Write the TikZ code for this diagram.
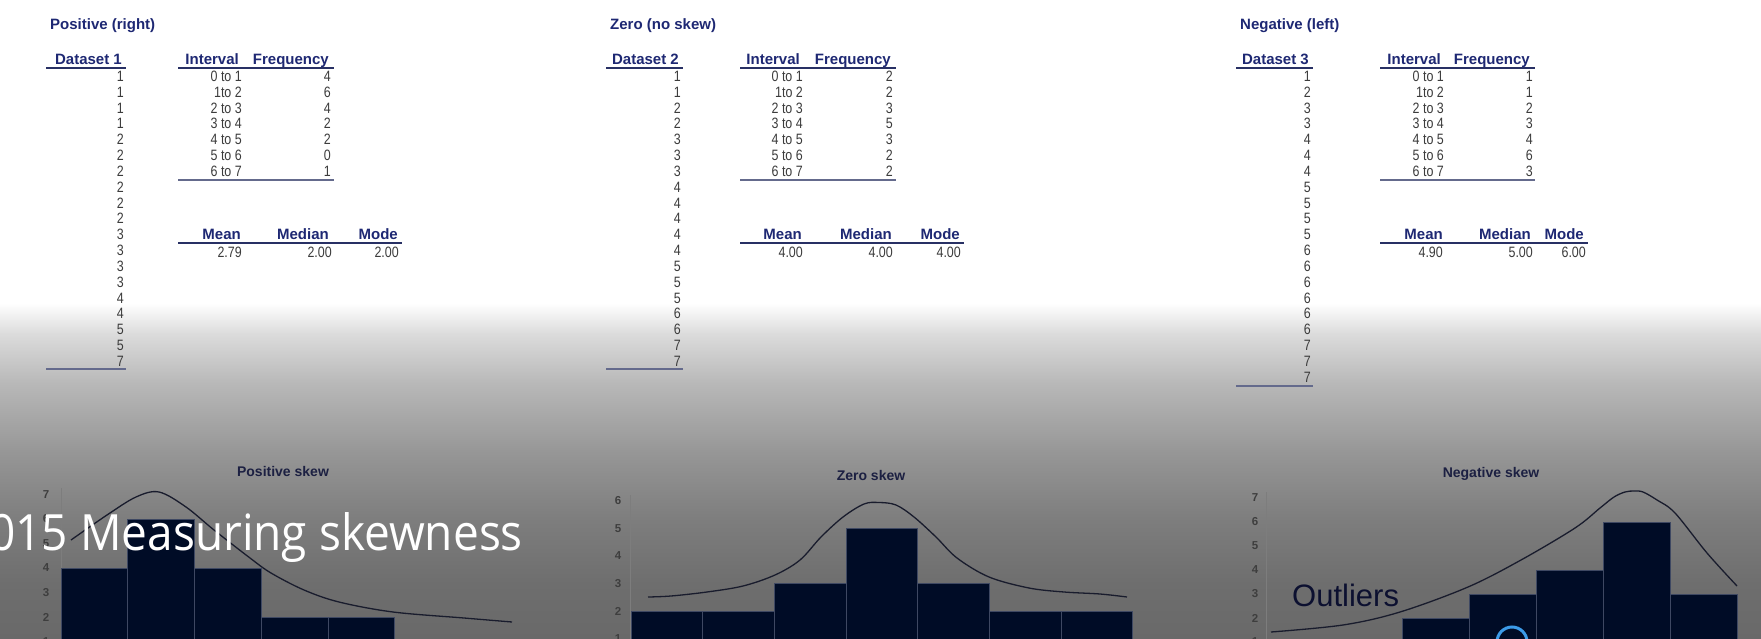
\documentclass[tikz,border=0pt]{standalone}
\usepackage{fontspec}
\setmainfont{Liberation Sans}
\newfontfamily\numfont[FakeStretch=0.83]{Liberation Sans}
\newfontfamily\titlefont{Open Sans}
\definecolor{hdr}{RGB}{30,40,115}
\definecolor{hline}{RGB}{40,48,100}
\definecolor{bline}{RGB}{100,106,140}
\definecolor{numc}{RGB}{60,60,60}
\definecolor{barc}{RGB}{0,12,38}
\definecolor{bared}{RGB}{62,72,98}
\definecolor{curvec}{RGB}{25,28,45}
\definecolor{ctitlec}{RGB}{28,32,66}
\definecolor{axlab}{RGB}{62,62,62}
\definecolor{ringc}{RGB}{60,155,232}
\definecolor{outc}{RGB}{12,16,48}
\definecolor{axc}{RGB}{125,125,125}
\definecolor{g1}{RGB}{220,220,220}
\definecolor{g2}{RGB}{184,184,184}
\definecolor{g3}{RGB}{151,151,151}
\definecolor{g4}{RGB}{126,126,126}
\definecolor{g5}{RGB}{110,110,110}
\definecolor{g6}{RGB}{105,105,105}
\tikzset{
  hd/.style={font=\fontsize{15}{18}\selectfont\bfseries, text=hdr, inner sep=0pt},
  num/.style={font=\numfont\fontsize{15}{18}\selectfont, text=numc, inner sep=0pt, anchor=base east},
  uline/.style={draw=hline, line width=2pt},
  lline/.style={draw=bline, line width=1.6pt},
  barbox/.style={fill=barc, draw=bared, line width=1pt},
  curve/.style={draw=curvec, line width=1.3pt, smooth, tension=0.55},
  ctitle/.style={font=\fontsize{14}{16}\selectfont\bfseries, text=ctitlec, inner sep=0pt, anchor=base},
  ylab/.style={font=\fontsize{11.5}{13}\selectfont\bfseries, text=axlab, inner sep=0pt},
  axline/.style={draw=axc, line width=0.6pt},
}
\begin{document}
\begin{tikzpicture}[x=1pt,y=-1pt]
\useasboundingbox (0,0) rectangle (1761,639);
\clip (0,0) rectangle (1761,639);
% background
\fill[white] (0,0) rectangle (1761,304);
\fill[top color=white, bottom color=g1] (0,303) rectangle (1761,333.5);
\fill[top color=g1, bottom color=g2] (0,333) rectangle (1761,383.5);
\fill[top color=g2, bottom color=g3] (0,383) rectangle (1761,450.5);
\fill[top color=g3, bottom color=g4] (0,450) rectangle (1761,517.5);
\fill[top color=g4, bottom color=g5] (0,517) rectangle (1761,583.5);
\fill[top color=g5, bottom color=g6] (0,583) rectangle (1761,639);

% ================= Panel 1 =================
\node[hd, anchor=base west] (t1) at (50,30) {Positive (right)};
\node[hd, anchor=base east] (d1h) at (122,64.3) {Dataset 1};
\draw[uline] (46,68) -- (126,68);
\foreach \v [count=\i] in {1,1,1,1,2,2,2,2,2,2,3,3,3,3,4,4,5,5,7}
  \node[num] (d1r\i) at (124,{81.5+15.83*(\i-1)}) {\v};
\draw[lline] (46,369) -- (126,369);
\node[hd, anchor=base east] (i1h) at (239,64.3) {Interval};
\node[hd, anchor=base east] (f1h) at (329,64.3) {Frequency};
\draw[uline] (178,68) -- (334,68);
\foreach \v [count=\i] in {0 to 1,1to 2,2 to 3,3 to 4,4 to 5,5 to 6,6 to 7}
  \node[num] (i1r\i) at (242,{81.5+15.83*(\i-1)}) {\v};
\foreach \v [count=\i] in {4,6,4,2,2,0,1}
  \node[num] (f1r\i) at (331,{81.5+15.83*(\i-1)}) {\v};
\draw[lline] (178,180) -- (334,180);
\node[hd, anchor=base east] (mn1) at (241,240) {Mean};
\node[hd, anchor=base east] (md1) at (329,240) {Median};
\node[hd, anchor=base east] (mo1) at (398,240) {Mode};
\draw[uline] (178,243) -- (402,243);
\node[num] (mnv1) at (242,257) {2.79};
\node[num] (mdv1) at (332,257) {2.00};
\node[num] (mov1) at (399,257) {2.00};

% ================= Panel 2 =================
\node[hd, anchor=base west] (t2) at (610,30) {Zero (no skew)};
\node[hd, anchor=base east] (d2h) at (679,64.3) {Dataset 2};
\draw[uline] (606,68) -- (683,68);
\foreach \v [count=\i] in {1,1,2,2,3,3,3,4,4,4,4,4,5,5,5,6,6,7,7}
  \node[num] (d2r\i) at (681,{81.5+15.83*(\i-1)}) {\v};
\draw[lline] (606,369) -- (683,369);
\node[hd, anchor=base east] (i2h) at (800,64.3) {Interval};
\node[hd, anchor=base east] (f2h) at (891,64.3) {Frequency};
\draw[uline] (740,68) -- (896,68);
\foreach \v [count=\i] in {0 to 1,1to 2,2 to 3,3 to 4,4 to 5,5 to 6,6 to 7}
  \node[num] (i2r\i) at (803,{81.5+15.83*(\i-1)}) {\v};
\foreach \v [count=\i] in {2,2,3,5,3,2,2}
  \node[num] (f2r\i) at (893,{81.5+15.83*(\i-1)}) {\v};
\draw[lline] (740,180) -- (896,180);
\node[hd, anchor=base east] (mn2) at (802,240) {Mean};
\node[hd, anchor=base east] (md2) at (892,240) {Median};
\node[hd, anchor=base east] (mo2) at (960,240) {Mode};
\draw[uline] (740,243) -- (964,243);
\node[num] (mnv2) at (803,257) {4.00};
\node[num] (mdv2) at (893,257) {4.00};
\node[num] (mov2) at (961,257) {4.00};

% ================= Panel 3 =================
\node[hd, anchor=base west] (t3) at (1240,30) {Negative (left)};
\node[hd, anchor=base east] (d3h) at (1309,64.3) {Dataset 3};
\draw[uline] (1236,68) -- (1313,68);
\foreach \v [count=\i] in {1,2,3,3,4,4,4,5,5,5,5,6,6,6,6,6,6,7,7,7}
  \node[num] (d3r\i) at (1311,{81.5+15.83*(\i-1)}) {\v};
\draw[lline] (1236,386) -- (1313,386);
\node[hd, anchor=base east] (i3h) at (1441,64.3) {Interval};
\node[hd, anchor=base east] (f3h) at (1530,64.3) {Frequency};
\draw[uline] (1380,68) -- (1535,68);
\foreach \v [count=\i] in {0 to 1,1to 2,2 to 3,3 to 4,4 to 5,5 to 6,6 to 7}
  \node[num] (i3r\i) at (1444,{81.5+15.83*(\i-1)}) {\v};
\foreach \v [count=\i] in {1,1,2,3,4,6,3}
  \node[num] (f3r\i) at (1533,{81.5+15.83*(\i-1)}) {\v};
\draw[lline] (1380,180) -- (1535,180);
\node[hd, anchor=base east] (mn3) at (1443,240) {Mean};
\node[hd, anchor=base east] (md3) at (1531,240) {Median};
\node[hd, anchor=base east] (mo3) at (1584,240) {Mode};
\draw[uline] (1380,243) -- (1588,243);
\node[num] (mnv3) at (1443,257) {4.90};
\node[num] (mdv3) at (1533,257) {5.00};
\node[num] (mov3) at (1586,257) {6.00};

% ================= Chart 1 =================
\node[ctitle] (c1t) at (283,476) {Positive skew};
\foreach \v in {1,...,7}
  \node[ylab] (c1y\v) at (46,{666-24.5*\v}) {\v};
\draw[axline] (61,488) -- (61,666);
\foreach \h [count=\i] in {4,6,4,2,2,0,1}
  {\draw[barbox] ({61+66.75*(\i-1)},666) rectangle ({61+66.75*\i},{666-24.5*\h});}
\draw[curve] plot coordinates {(71,540) (107,515) (136,497) (159,492) (186,507) (214,530) (250,558) (271,573) (304,590) (339,602) (393,612) (464,618) (512,622)};

% ================= Chart 2 =================
\node[ctitle] (c2t) at (871,480) {Zero skew};
\foreach \v in {1,...,6}
  \node[ylab] (c2y\v) at (618,{666-27.5*\v}) {\v};
\draw[axline] (630,495) -- (630,666);
\foreach \h [count=\i] in {2,2,3,5,3,2,2}
  {\draw[barbox] ({631+71.7*(\i-1)},666) rectangle ({631+71.7*\i},{666-27.5*\h});}
\draw[curve] plot coordinates {(648,597) (671,596) (707,592) (743,586) (775,575) (800,560) (821,537) (843,517) (864,504) (879,502.5) (896,505) (914,517) (936,537) (957,558) (989,577) (1029,588) (1064,592) (1100,594) (1127,597)};

% ================= Chart 3 =================
\node[ctitle] (c3t) at (1491,477) {Negative skew};
\foreach \v in {1,...,7}
  \node[ylab] (c3y\v) at (1255,{666-24*\v}) {\v};
\draw[axline] (1266,492) -- (1266,666);
\foreach \h [count=\i] in {1,1,2,3,4,6,3}
  {\draw[barbox] ({1268+67*(\i-1)},666) rectangle ({1268+67*\i},{666-24*\h});}
\draw[curve] plot coordinates {(1271,632) (1343,625) (1400,612) (1468,587) (1521,560) (1575,528) (1600,508) (1614,497) (1625,492) (1634,491) (1643,492) (1657,500) (1675,513) (1707,553) (1737,586)};
\node[font=\fontsize{31}{36}\selectfont, text=outc, inner sep=0pt, anchor=base west] (outl) at (1292,606) {Outliers};
\draw[draw=ringc, line width=3pt] (1512,642) circle[radius=15];

% ================= Slide title =================
\node[anchor=base east, inner sep=0pt, text=white, font=\titlefont\fontsize{50}{60}\selectfont] (title) at (523,550) {\scalebox{0.92}[1]{2015 Measuring skewness}};
\end{tikzpicture}
\end{document}
